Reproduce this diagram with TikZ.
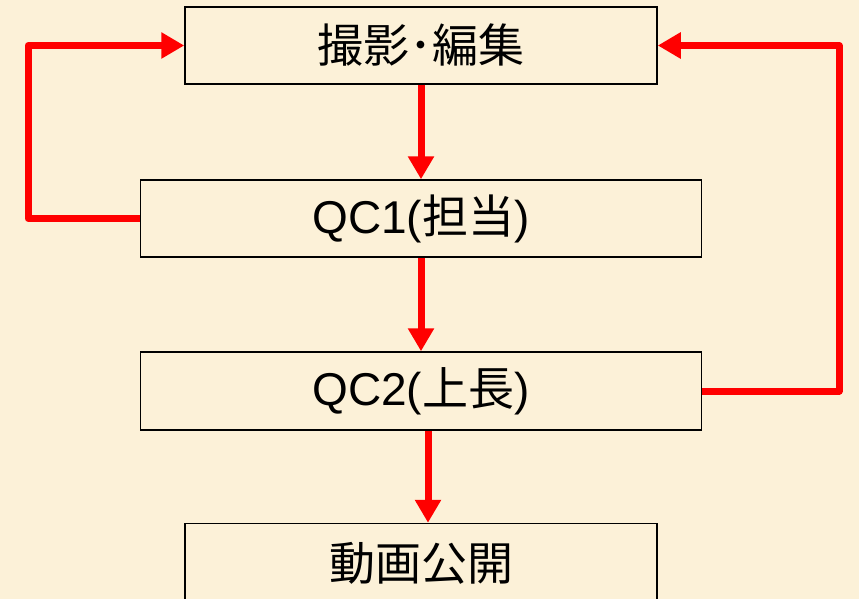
\documentclass[tikz,border=0pt]{standalone}
\usepackage{fontspec}
\setmainfont{Liberation Sans}
\newfontfamily\cjk{Noto Sans CJK JP}
\usetikzlibrary{arrows.meta}
\definecolor{parch}{RGB}{252,241,216}
\definecolor{lred}{RGB}{255,0,0}
\tikzset{
  stepbox/.style={draw=black, line width=1.5pt, inner sep=0pt, font=\fontsize{46}{52}\selectfont},
  flow/.style={draw=lred, line width=7pt, line join=round, -{Triangle[length=23pt,width=25pt]}},
}
\begin{document}
\begin{tikzpicture}[x=1pt,y=-1pt]
\fill[parch] (0,0) rectangle (859,599);
\useasboundingbox (0,0) rectangle (859,599);
\node[stepbox, minimum width=472pt, minimum height=77pt] (b1) at (421,45.5) {{\cjk 撮影･編集}};
\node[stepbox, minimum width=561pt, minimum height=77pt] (b2) at (421,218.5) {QC1({\cjk 担当})};
\node[stepbox, minimum width=561pt, minimum height=78pt] (b3) at (421,391) {QC2({\cjk 上長})};
\node[stepbox, minimum width=472pt, minimum height=79pt] (b4) at (421,563) {{\cjk 動画公開}};
\draw[flow] (b1.south) -- (b2.north);
\draw[flow] (b2.south) -- (b3.north);
\draw[flow] ([xshift=7pt]b3.south) -- ([xshift=7pt]b4.north);
\coordinate (lc) at (28,0);
\coordinate (rc) at (839,0);
\draw[flow] (b2.west) -- (b2.west -| lc) -- (b1.west -| lc) -- (b1.west);
\draw[flow] (b3.east) -- (b3.east -| rc) -- (b1.east -| rc) -- (b1.east);
\end{tikzpicture}
\end{document}
